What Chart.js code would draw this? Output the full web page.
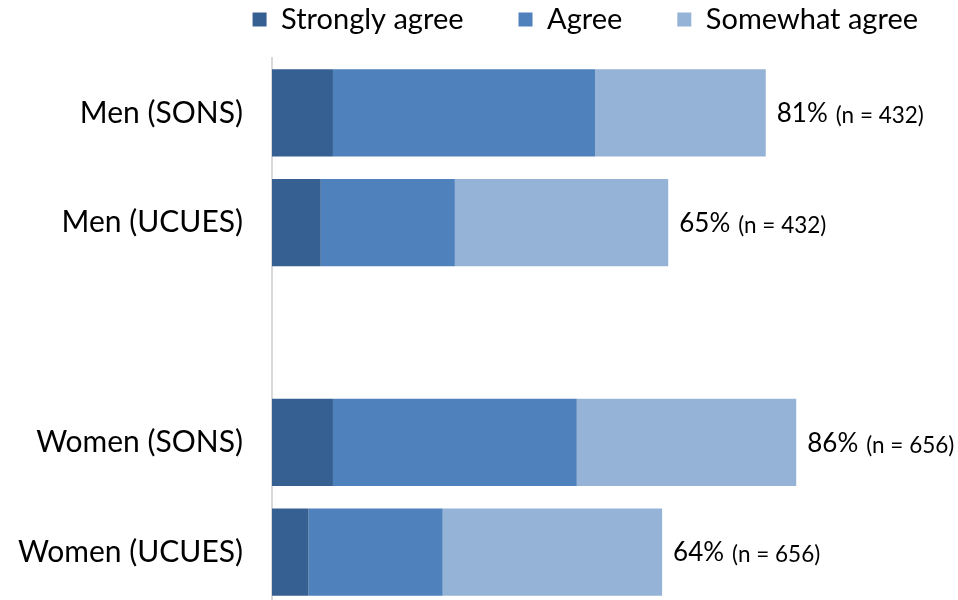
<!DOCTYPE html>
<html>
<head>
<meta charset="utf-8">
<script src="https://cdn.jsdelivr.net/npm/chart.js@4/dist/chart.umd.min.js"></script>
<style>
  html, body { margin: 0; padding: 0; background: #fff; overflow: hidden; }
  /* canvas runs past the window so the plot fills it to the bottom edge */
  #agreeChart { position: absolute; left: 0; top: -50px; }
</style>
</head>
<body>
<canvas id="agreeChart" width="973" height="704"></canvas>
<script>
// Share agreeing, by group (blank row separates men / women)
const groups = ['Men (SONS)', 'Men (UCUES)', '', 'Women (SONS)', 'Women (UCUES)'];
const stronglyAgree = [10, 8, null, 10, 6];
const agree = [43, 22, null, 40, 22];
const somewhatAgree = [28, 35, null, 36, 36];
const totalLabels = ['81%', '65%', '', '86%', '64%'];
const sampleSizes = [432, 432, null, 656, 656];

const FONT = 'Lato, "Open Sans", sans-serif';

// total + sample size written after the end of each bar
const endLabels = {
    id: 'endLabels',
    afterDatasetsDraw(chart) {
        const { ctx } = chart;
        const meta = chart.getDatasetMeta(chart.data.datasets.length - 1);
        ctx.save();
        ctx.fillStyle = '#000';
        ctx.textBaseline = 'middle';
        ctx.textAlign = 'left';
        meta.data.forEach((bar, i) => {
            if (!totalLabels[i]) return;
            let x = bar.x + 11;
            ctx.font = '26px ' + FONT;
            ctx.fillText(totalLabels[i], x, bar.y + 1);
            x += ctx.measureText(totalLabels[i]).width + 8;
            ctx.font = '22.5px ' + FONT;
            ctx.fillText('(n = ' + sampleSizes[i] + ')', x, bar.y + 3);
        });
        ctx.restore();
    }
};

new Chart(document.getElementById('agreeChart').getContext('2d'), {
    type: 'bar',
    data: {
        labels: groups,
        datasets: [
            { label: 'Strongly agree', data: stronglyAgree, backgroundColor: '#366092' },
            { label: 'Agree', data: agree, backgroundColor: '#4F81BD' },
            { label: 'Somewhat agree', data: somewhatAgree, backgroundColor: '#95B3D7' }
        ]
    },
    options: {
        indexAxis: 'y',
        responsive: false,
        animation: false,
        devicePixelRatio: 1,
        datasets: { bar: { barPercentage: 0.795, categoryPercentage: 1 } },
        layout: { padding: 0 },
        plugins: {
            legend: {
                position: 'top',
                align: 'end',
                labels: {
                    boxWidth: 14,
                    boxHeight: 14,
                    padding: 55,
                    color: '#000',
                    font: { family: FONT, size: 29 }
                }
            },
            tooltip: { enabled: false }
        },
        scales: {
            x: {
                stacked: true,
                position: 'top',
                min: 0,
                max: 115,
                grid: { display: false },
                border: { display: false },
                ticks: { display: false },
                afterFit: s => { s.height = 14; }
            },
            y: {
                stacked: true,
                grid: { display: false, drawTicks: false },
                border: { display: true, color: '#d9d9d9', width: 2 },
                ticks: {
                    padding: 29,
                    color: '#000',
                    font: { family: FONT, size: 30 }
                },
                afterFit: s => { s.width = 272; }
            }
        }
    },
    plugins: [endLabels]
});
</script>
</body>
</html>
